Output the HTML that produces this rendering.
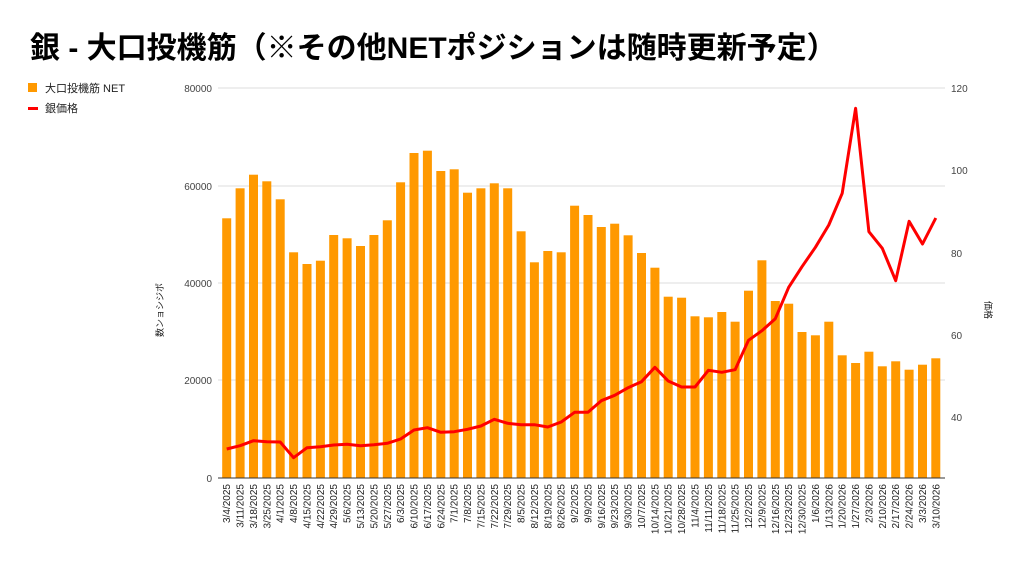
<!DOCTYPE html>
<html><head><meta charset="utf-8"><style>
body{margin:0;background:#fff;}
svg{display:block;font-family:"Liberation Sans","Noto Sans CJK JP",sans-serif;}
</style></head><body>
<svg width="1024" height="565" viewBox="0 0 1024 565" xmlns="http://www.w3.org/2000/svg">
<text x="30" y="58" font-size="30" font-weight="bold" fill="#000">銀 - 大口投機筋（※その他NETポジションは随時更新予定）</text>
<rect x="28" y="83" width="9" height="9" fill="#ff9900"/>
<text x="45" y="92" font-size="11" fill="#222">大口投機筋  NET</text>
<rect x="28" y="107" width="10" height="3" fill="#ff0000"/>
<text x="45" y="112" font-size="11" fill="#222">銀価格</text>
<g stroke="#ddd" stroke-width="1">
<line x1="218" y1="88" x2="945" y2="88"/><line x1="218" y1="186" x2="945" y2="186"/><line x1="218" y1="283" x2="945" y2="283"/><line x1="218" y1="380" x2="945" y2="380"/>
</g>
<g font-size="10" fill="#444" text-anchor="end">
<text x="212" y="92">80000</text><text x="212" y="190">60000</text><text x="212" y="287">40000</text><text x="212" y="384">20000</text><text x="212" y="482">0</text>
</g>
<g font-size="10" fill="#444">
<text x="951" y="92">120</text><text x="951" y="174">100</text><text x="951" y="257">80</text><text x="951" y="339">60</text><text x="951" y="421">40</text>
</g>
<text transform="translate(163,310) rotate(-90)" font-size="9" fill="#222" text-anchor="middle">数ンョシジポ</text>
<text transform="translate(985,310) rotate(90)" font-size="9" fill="#222" text-anchor="middle">価格</text>
<g fill="#ff9900">
<rect x="222.2" y="218.3" width="9" height="259.7"/><rect x="235.6" y="188.3" width="9" height="289.7"/><rect x="249.0" y="174.7" width="9" height="303.3"/><rect x="262.3" y="181.3" width="9" height="296.7"/><rect x="275.7" y="199.3" width="9" height="278.7"/><rect x="289.1" y="252.3" width="9" height="225.7"/><rect x="302.5" y="264" width="9" height="214"/><rect x="315.9" y="260.7" width="9" height="217.3"/><rect x="329.2" y="235" width="9" height="243"/><rect x="342.6" y="238.3" width="9" height="239.7"/><rect x="356.0" y="246" width="9" height="232"/><rect x="369.4" y="235" width="9" height="243"/><rect x="382.8" y="220.3" width="9" height="257.7"/><rect x="396.1" y="182.3" width="9" height="295.7"/><rect x="409.5" y="153" width="9" height="325"/><rect x="422.9" y="150.7" width="9" height="327.3"/><rect x="436.3" y="171" width="9" height="307"/><rect x="449.7" y="169.3" width="9" height="308.7"/><rect x="463.0" y="192.7" width="9" height="285.3"/><rect x="476.4" y="188.3" width="9" height="289.7"/><rect x="489.8" y="183.3" width="9" height="294.7"/><rect x="503.2" y="188.3" width="9" height="289.7"/><rect x="516.6" y="231.3" width="9" height="246.7"/><rect x="529.9" y="262.3" width="9" height="215.7"/><rect x="543.3" y="251" width="9" height="227"/><rect x="556.7" y="252.3" width="9" height="225.7"/><rect x="570.1" y="205.7" width="9" height="272.3"/><rect x="583.5" y="215" width="9" height="263"/><rect x="596.8" y="227" width="9" height="251"/><rect x="610.2" y="223.7" width="9" height="254.3"/><rect x="623.6" y="235.3" width="9" height="242.7"/><rect x="637.0" y="253" width="9" height="225"/><rect x="650.4" y="267.7" width="9" height="210.3"/><rect x="663.7" y="296.7" width="9" height="181.3"/><rect x="677.1" y="297.7" width="9" height="180.3"/><rect x="690.5" y="316.3" width="9" height="161.7"/><rect x="703.9" y="317.3" width="9" height="160.7"/><rect x="717.3" y="312" width="9" height="166"/><rect x="730.6" y="321.7" width="9" height="156.3"/><rect x="744.0" y="290.7" width="9" height="187.3"/><rect x="757.4" y="260.3" width="9" height="217.7"/><rect x="770.8" y="301" width="9" height="177"/><rect x="784.2" y="303.7" width="9" height="174.3"/><rect x="797.5" y="332" width="9" height="146"/><rect x="810.9" y="335.3" width="9" height="142.7"/><rect x="824.3" y="321.7" width="9" height="156.3"/><rect x="837.7" y="355.3" width="9" height="122.7"/><rect x="851.1" y="363" width="9" height="115"/><rect x="864.4" y="351.7" width="9" height="126.3"/><rect x="877.8" y="366.3" width="9" height="111.7"/><rect x="891.2" y="361.3" width="9" height="116.7"/><rect x="904.6" y="369.7" width="9" height="108.3"/><rect x="918.0" y="364.7" width="9" height="113.3"/><rect x="931.3" y="358.3" width="9" height="119.7"/>
</g>
<line x1="218" y1="478" x2="945" y2="478" stroke="#333" stroke-width="1"/>
<polyline fill="none" stroke="#ff0000" stroke-width="3" stroke-linejoin="round" points="226.7,449 240.1,445.7 253.5,440.7 266.8,441.7 280.2,442 293.6,457.7 307.0,447.7 320.4,446.7 333.7,445 347.1,444.3 360.5,445.7 373.9,444.7 387.3,443.3 400.6,439 414.0,430 427.4,427.7 440.8,432.3 454.2,431.7 467.5,429.3 480.9,426 494.3,419.3 507.7,423.3 521.1,424.7 534.4,424.7 547.8,427 561.2,422 574.6,412.3 588.0,412.3 601.3,400.7 614.7,395.3 628.1,387.7 641.5,381.7 654.9,367.3 668.2,381 681.6,387 695.0,387 708.4,370.3 721.8,372.3 735.1,369.7 748.5,340.3 761.9,330.7 775.3,318.7 788.7,287.3 802.0,266.7 815.4,247.3 828.8,225 842.2,193.3 855.6,108.3 868.9,231.7 882.3,248.3 895.7,280.7 909.1,221.3 922.5,244 935.8,218"/>
<g font-size="10" fill="#222" text-anchor="end">
<text transform="translate(230.2,484) rotate(-90)">3/4/2025</text>
<text transform="translate(243.6,484) rotate(-90)">3/11/2025</text>
<text transform="translate(257.0,484) rotate(-90)">3/18/2025</text>
<text transform="translate(270.3,484) rotate(-90)">3/25/2025</text>
<text transform="translate(283.7,484) rotate(-90)">4/1/2025</text>
<text transform="translate(297.1,484) rotate(-90)">4/8/2025</text>
<text transform="translate(310.5,484) rotate(-90)">4/15/2025</text>
<text transform="translate(323.9,484) rotate(-90)">4/22/2025</text>
<text transform="translate(337.2,484) rotate(-90)">4/29/2025</text>
<text transform="translate(350.6,484) rotate(-90)">5/6/2025</text>
<text transform="translate(364.0,484) rotate(-90)">5/13/2025</text>
<text transform="translate(377.4,484) rotate(-90)">5/20/2025</text>
<text transform="translate(390.8,484) rotate(-90)">5/27/2025</text>
<text transform="translate(404.1,484) rotate(-90)">6/3/2025</text>
<text transform="translate(417.5,484) rotate(-90)">6/10/2025</text>
<text transform="translate(430.9,484) rotate(-90)">6/17/2025</text>
<text transform="translate(444.3,484) rotate(-90)">6/24/2025</text>
<text transform="translate(457.7,484) rotate(-90)">7/1/2025</text>
<text transform="translate(471.0,484) rotate(-90)">7/8/2025</text>
<text transform="translate(484.4,484) rotate(-90)">7/15/2025</text>
<text transform="translate(497.8,484) rotate(-90)">7/22/2025</text>
<text transform="translate(511.2,484) rotate(-90)">7/29/2025</text>
<text transform="translate(524.6,484) rotate(-90)">8/5/2025</text>
<text transform="translate(537.9,484) rotate(-90)">8/12/2025</text>
<text transform="translate(551.3,484) rotate(-90)">8/19/2025</text>
<text transform="translate(564.7,484) rotate(-90)">8/26/2025</text>
<text transform="translate(578.1,484) rotate(-90)">9/2/2025</text>
<text transform="translate(591.5,484) rotate(-90)">9/9/2025</text>
<text transform="translate(604.8,484) rotate(-90)">9/16/2025</text>
<text transform="translate(618.2,484) rotate(-90)">9/23/2025</text>
<text transform="translate(631.6,484) rotate(-90)">9/30/2025</text>
<text transform="translate(645.0,484) rotate(-90)">10/7/2025</text>
<text transform="translate(658.4,484) rotate(-90)">10/14/2025</text>
<text transform="translate(671.7,484) rotate(-90)">10/21/2025</text>
<text transform="translate(685.1,484) rotate(-90)">10/28/2025</text>
<text transform="translate(698.5,484) rotate(-90)">11/4/2025</text>
<text transform="translate(711.9,484) rotate(-90)">11/11/2025</text>
<text transform="translate(725.3,484) rotate(-90)">11/18/2025</text>
<text transform="translate(738.6,484) rotate(-90)">11/25/2025</text>
<text transform="translate(752.0,484) rotate(-90)">12/2/2025</text>
<text transform="translate(765.4,484) rotate(-90)">12/9/2025</text>
<text transform="translate(778.8,484) rotate(-90)">12/16/2025</text>
<text transform="translate(792.2,484) rotate(-90)">12/23/2025</text>
<text transform="translate(805.5,484) rotate(-90)">12/30/2025</text>
<text transform="translate(818.9,484) rotate(-90)">1/6/2026</text>
<text transform="translate(832.3,484) rotate(-90)">1/13/2026</text>
<text transform="translate(845.7,484) rotate(-90)">1/20/2026</text>
<text transform="translate(859.1,484) rotate(-90)">1/27/2026</text>
<text transform="translate(872.4,484) rotate(-90)">2/3/2026</text>
<text transform="translate(885.8,484) rotate(-90)">2/10/2026</text>
<text transform="translate(899.2,484) rotate(-90)">2/17/2026</text>
<text transform="translate(912.6,484) rotate(-90)">2/24/2026</text>
<text transform="translate(926.0,484) rotate(-90)">3/3/2026</text>
<text transform="translate(939.3,484) rotate(-90)">3/10/2026</text>
</g>
</svg>
</body></html>
